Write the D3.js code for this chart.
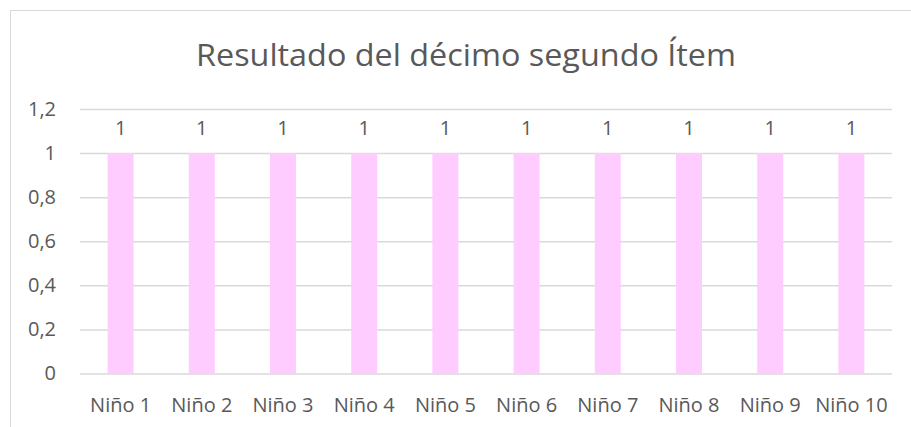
<!DOCTYPE html>
<html>
<head>
<meta charset="utf-8">
<script src="https://cdn.jsdelivr.net/npm/d3@7"></script>
<style>
  body { margin: 0; background: #fff; }
  text { font-family: "Open Sans", sans-serif; fill: #595959; }
</style>
</head>
<body>
<script>
// chart data
var categories = ["Niño 1", "Niño 2", "Niño 3", "Niño 4", "Niño 5", "Niño 6", "Niño 7", "Niño 8", "Niño 9", "Niño 10"];
var values = [1, 1, 1, 1, 1, 1, 1, 1, 1, 1];
var yTicks = [0, 0.2, 0.4, 0.6, 0.8, 1, 1.2];
var title = "Resultado del décimo segundo Ítem";

var svgWidth = 911;
var svgHeight = 427;

var chartMargin = { top: 109, right: 19, bottom: 53.5, left: 80 };
var chartWidth = svgWidth - chartMargin.left - chartMargin.right;
var chartHeight = svgHeight - chartMargin.top - chartMargin.bottom;

var svg = d3.select("body")
  .append("svg")
  .attr("width", svgWidth)
  .attr("height", svgHeight);

// outer chart border (cropped on right and bottom)
svg.append("rect")
  .attr("x", 10.5)
  .attr("y", 10.5)
  .attr("width", 960)
  .attr("height", 500)
  .attr("fill", "none")
  .attr("stroke", "#d9d9d9")
  .attr("stroke-width", 1);

svg.append("text")
  .attr("x", 466)
  .attr("y", 66)
  .attr("text-anchor", "middle")
  .style("font-size", "31px")
  .attr("textLength", 540)
  .attr("lengthAdjust", "spacingAndGlyphs")
  .text(title);

var chartGroup = svg.append("g")
  .attr("transform", `translate(${chartMargin.left}, ${chartMargin.top})`);

var xScale = d3.scaleBand()
  .domain(categories)
  .range([0, chartWidth])
  .paddingInner(0.68)
  .paddingOuter(0.34);

var yScale = d3.scaleLinear()
  .domain([0, 1.2])
  .range([chartHeight, 0]);

var fmt = function(d) { return String(+d.toFixed(1)).replace(".", ","); };

// gridlines + y labels
var yAxis = chartGroup.append("g")
  .call(d3.axisLeft(yScale).tickValues(yTicks).tickSize(-chartWidth).tickFormat(fmt).tickPadding(24));
yAxis.select(".domain").remove();
yAxis.selectAll(".tick line").attr("stroke", "#d9d9d9").attr("stroke-width", 1.5);
yAxis.selectAll(".tick text").style("font-size", "20px").attr("fill", "#595959");

// bars
chartGroup.selectAll("rect.bar")
  .data(values)
  .enter()
  .append("rect")
  .attr("class", "bar")
  .attr("x", (d, i) => xScale(categories[i]))
  .attr("width", xScale.bandwidth())
  .attr("y", d => yScale(d))
  .attr("height", d => chartHeight - yScale(d))
  .attr("fill", "#ffccff");

// value labels
chartGroup.selectAll("text.val")
  .data(values)
  .enter()
  .append("text")
  .attr("class", "val")
  .attr("x", (d, i) => xScale(categories[i]) + xScale.bandwidth() / 2)
  .attr("y", d => yScale(d) - 18)
  .attr("text-anchor", "middle")
  .style("font-size", "20px")
  .text(d => d);

// x axis labels
var xAxis = chartGroup.append("g")
  .attr("transform", `translate(0, ${chartHeight})`)
  .call(d3.axisBottom(xScale).tickSize(0).tickPadding(24));
xAxis.select(".domain").remove();
xAxis.selectAll(".tick text").style("font-size", "20px").attr("fill", "#595959");
</script>
</body>
</html>
